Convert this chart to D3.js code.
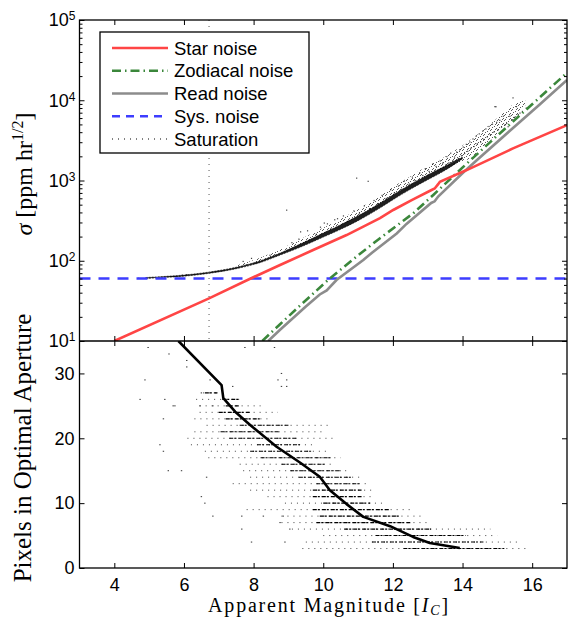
<!DOCTYPE html>
<html>
<head>
<meta charset="utf-8">
<script src="https://cdn.jsdelivr.net/npm/d3@7/dist/d3.min.js"></script>
<style>
  body { margin: 0; background: #fff; }
  svg { display: block; }
</style>
</head>
<body>
<svg id="chart" width="569" height="618"></svg>
<script>
// ---- values ----
// noise curves, ppm hr^1/2 against I_C magnitude
const starMag = [4.0, 6.72, 7.9, 8.76, 9.71, 10.67, 11.63, 12.01, 12.54, 13.11, 13.2, 13.3, 13.35, 14.12, 15.45, 17.0]
const starNoise = [10, 34, 59.7, 88.5, 136, 209, 339, 429, 571, 762, 794, 900, 966, 1349, 2512, 4898]
const zodiMag = [8.25, 8.76, 9.33, 10.19, 11.0, 11.63, 12.58, 13.16, 14.12, 15.0, 16.0, 17.0]
const zodiNoise = [10, 16.2, 27.5, 60.3, 117, 191, 389, 661, 1622, 3631, 8913, 22030]
const readMag = [8.42, 8.76, 9.5, 9.9, 10.1, 10.38, 11.15, 11.4, 12.11, 12.39, 13.1, 13.2, 13.3, 14.02, 14.4, 15.36, 16.2, 17.0]
const readNoise = [10, 13.8, 26.9, 38, 42.7, 57.5, 102, 126, 219, 288, 525, 550, 631, 1259, 1778, 4169, 8710, 17870]
const sysNoise = 60
const saturationMag = 6.72

// dense core of the measured stars (lower / upper edge)
const coreMag = [4.9, 5.5, 6.0, 6.7, 7.5, 8.2, 8.8, 9.4, 10.0, 10.5, 11.0, 11.6, 12.0, 12.5, 13.0, 13.4, 13.8, 14.0]
const coreLow = [60.1, 62.2, 64.3, 69.5, 79.6, 95.3, 119.4, 151.4, 197.2, 246.6, 316.2, 446.7, 575.4, 776.2, 1023, 1265, 1622, 1862]
const coreHigh = [61.8, 64.0, 66.4, 72.1, 83.0, 100.2, 126.8, 166, 221.3, 280.5, 363.1, 512.9, 660.7, 891.3, 1175, 1439, 1778, 1950]
// looser cloud of stars above the core
const haloMag = [7.5, 8.2, 8.8, 9.4, 10.0, 10.5, 11.0, 11.6, 12.0, 12.5, 13.0, 13.4, 13.8, 14.2, 14.6, 15.0, 15.4, 15.8]
const haloLow = [83.0, 100.2, 126.8, 164.1, 217.3, 274.8, 354.8, 501, 646, 871, 1148, 1349, 1585, 1862, 2630, 3802, 5495, 8318]
const haloHigh = [87.1, 109.6, 141.3, 190.5, 257, 331, 437, 631, 832, 1122, 1514, 1862, 2399, 3162, 4266, 6026, 8511, 10000]

// single stars [mag, ppm]
const starScatter = [
    [4.7, 60.5], [5.95, 66], [6.08, 67], [7.70, 98], [7.94, 107], [8.47, 117], [8.95, 427], [9.35, 229],
    [10.03, 295], [10.33, 324], [10.96, 1070], [11.29, 977],
    [9.1, 168], [9.3, 186], [9.55, 236], [9.8, 214], [9.92, 262], [10.12, 288], [10.22, 251], [10.41, 334],
    [10.58, 362], [10.7, 309], [10.88, 418], [11.04, 392], [11.18, 482], [11.33, 447], [11.46, 563], [11.58, 516],
    [11.69, 652], [11.81, 598], [11.94, 764], [12.04, 697], [12.16, 852], [12.26, 781], [12.33, 985], [12.47, 902],
    [12.56, 1103], [12.64, 997], [12.77, 1248], [12.86, 1152], [12.93, 1404], [13.04, 1296], [13.14, 1598],
    [13.24, 1497], [13.36, 1752], [13.43, 1648], [13.52, 1560], [13.55, 1980], [13.61, 1660], [13.66, 2190],
    [13.72, 1760], [13.77, 1960], [13.83, 2260], [13.88, 1880], [13.92, 2410], [13.97, 2030], [14.02, 2610],
    [14.06, 2170], [14.11, 2820], [14.15, 2310], [14.21, 3020], [14.24, 2520], [14.3, 3290], [14.33, 2650],
    [14.39, 3560], [14.42, 2870], [14.48, 3810], [14.52, 3010], [14.58, 4120], [14.61, 3260], [14.67, 4390],
    [14.71, 3490], [14.76, 4710], [14.8, 3720], [14.86, 5030], [14.9, 4010], [14.93, 8320], [14.96, 8300],
    [14.98, 5310], [15.02, 4280], [15.07, 5620], [15.12, 4620], [15.17, 6310], [15.22, 4930], [15.27, 5130],
    [15.31, 4680], [15.36, 6310], [15.41, 5720], [15.45, 10700], [15.49, 6120], [15.55, 8320], [15.6, 6630],
    [15.65, 6920], [15.72, 7250], [15.83, 7980], [15.91, 8150]
]

// pixels in aperture: rows [pixels, sparse from, dense from, dense to, sparse to]
const pixRows = [
    [3, 9.4, 12.3, 15.2, 15.9], [4, 9.5, 11.4, 14.6, 15.6], [5, 10.0, 11.5, 14.1, 15.0],
    [6, 9.1, 10.6, 13.1, 14.8], [7, 8.8, 9.8, 12.5, 13.1], [8, 8.8, 9.9, 12.2, 12.8],
    [9, 7.8, 9.7, 11.9, 12.5], [10, 8.9, 10.0, 11.35, 11.7], [11, 8.4, 9.7, 11.1, 11.4],
    [12, 7.9, 9.7, 11.1, 11.5], [13, 7.4, 9.8, 11.05, 11.25], [14, 7.9, 9.3, 10.8, 11.1],
    [15, 7.7, 9.05, 10.5, 10.8], [16, 7.6, 8.8, 10.05, 10.25], [17, 6.7, 8.2, 10.25, 10.5],
    [18, 6.6, 7.9, 9.7, 10.2], [19, 6.2, 8.1, 9.35, 9.75], [20, 6.1, 7.3, 9.25, 10.3],
    [21, 6.3, 7.05, 8.75, 10.05], [22, 6.65, 7.6, 9.0, 10.2], [23, 6.3, 7.2, 8.2, 8.4],
    [24, 6.45, 7.0, 7.9, 8.7], [25, 6.45, 7.2, 7.6, 8.2], [26, 6.35, 7.1, 7.6, 7.6],
    [27, 6.55, 6.6, 6.95, 6.95]
]
const pixScatter = [
    [4.74, 26], [5.45, 26], [5.74, 25], [5.69, 25], [5.41, 23], [5.31, 19], [5.41, 18], [5.55, 15], [5.93, 15],
    [6.65, 14], [6.5, 11], [6.6, 10], [6.83, 8], [7.66, 8], [8.28, 8], [8.85, 8], [8.76, 7], [7.66, 6], [9.04, 6],
    [7.94, 4], [8.9, 4], [4.88, 29], [4.97, 34], [5.57, 33], [6.08, 32], [6.08, 31], [6.75, 29], [7.4, 28],
    [8.8, 28], [8.95, 28], [8.7, 29], [8.95, 29], [8.8, 30], [7.75, 34], [8.6, 34], [6.46, 25], [6.83, 25],
    [6.5, 27], [6.95, 27]
]
// median aperture size
const medianMag = [5.84, 7.08, 7.13, 7.47, 7.9, 8.66, 9.33, 9.9, 10.19, 10.67, 11.15, 11.92, 12.58, 13.06, 13.92]
const medianPix = [35, 28.2, 26.2, 24.1, 22.05, 18.7, 16.26, 14.06, 12.0, 9.85, 7.88, 6.45, 4.79, 3.86, 3.09]

const magTicks = [4, 6, 8, 10, 12, 14, 16]
const sigmaTicks = [1e1, 1e2, 1e3, 1e4, 1e5]
const pixTicks = [0, 10, 20, 30]
const legendNames = ['Star noise', 'Zodiacal noise', 'Read noise', 'Sys. noise', 'Saturation']

// ---- drawing ----
const sans = "'Liberation Sans', Arial, sans-serif"
const serif = "'Liberation Serif', 'Times New Roman', serif"
const box = { left: 79.5, right: 567, top: 20, mid: 341, bottom: 568 }

const svg = d3.select('#chart')

const x = d3.scaleLinear().domain([3, 17]).range([box.left, box.right])
const yTop = d3.scaleLog().domain([10, 1e5]).range([box.mid, box.top])
const yBot = d3.scaleLinear().domain([0, 35]).range([box.bottom, box.mid])

const styles = {
    star: { color: '#ff4545', width: 2.6, dash: null },
    zodi: { color: '#3b873b', width: 2.6, dash: '9,4,1.5,4' },
    read: { color: '#8c8c8c', width: 2.6, dash: null },
    sys: { color: '#3d3dff', width: 2.6, dash: '11,8' },
    sat: { color: '#555', width: 1, dash: '1,5' }
}

const defs = svg.append('defs')
defs.append('clipPath').attr('id', 'clipTop').append('rect')
    .attr('x', box.left).attr('y', box.top).attr('width', box.right - box.left).attr('height', box.mid - box.top)
defs.append('clipPath').attr('id', 'clipBot').append('rect')
    .attr('x', box.left).attr('y', box.mid).attr('width', box.right - box.left).attr('height', box.bottom - box.mid)
// stipple used for the loose star cloud
const stipple = defs.append('pattern')
    .attr('id', 'stipple')
    .attr('patternUnits', 'userSpaceOnUse')
    .attr('width', 7).attr('height', 5)
;[[0, 0], [4, 1], [2, 2], [6, 3], [1, 4], [5, 4]].forEach(p => {
    stipple.append('rect').attr('x', p[0]).attr('y', p[1]).attr('width', 1).attr('height', 1).attr('fill', '#000')
})

const topPanel = svg.append('g').attr('clip-path', 'url(#clipTop)')
const botPanel = svg.append('g').attr('clip-path', 'url(#clipBot)')

const bandArea = d3.area().curve(d3.curveMonotoneX)
    .x(d => x(d[0])).y0(d => yTop(d[1])).y1(d => yTop(d[2]))

topPanel.append('path')
    .datum(haloMag.map((m, i) => [m, haloLow[i], haloHigh[i]]))
    .attr('d', bandArea)
    .attr('fill', 'url(#stipple)')
    .attr('opacity', 0.65)

topPanel.append('path')
    .datum(coreMag.map((m, i) => [m, coreLow[i], coreHigh[i]]))
    .attr('d', bandArea)
    .attr('fill', '#000')
    .attr('fill-opacity', 0.88)
    .attr('stroke', '#000')
    .attr('stroke-width', 0.6)
    .attr('stroke-dasharray', '2,1')

topPanel.selectAll('rect.star')
    .data(starScatter)
    .enter()
    .append('rect')
    .attr('class', 'star')
    .attr('x', d => x(d[0]) - 0.6)
    .attr('y', d => yTop(d[1]) - 0.6)
    .attr('width', 1.2)
    .attr('height', 1.2)
    .attr('fill', '#000')
    .attr('fill-opacity', 0.75)

// saturation limit
topPanel.append('line')
    .attr('x1', x(saturationMag)).attr('x2', x(saturationMag))
    .attr('y1', yTop(1e5)).attr('y2', yTop(10))
    .attr('stroke', styles.sat.color)
    .attr('stroke-width', styles.sat.width)
    .attr('stroke-dasharray', styles.sat.dash)

const noiseLine = d3.line().x(d => x(d[0])).y(d => yTop(d[1]))
const curves = [
    { key: 'sys', pts: [[3, sysNoise], [17, sysNoise]] },
    { key: 'read', pts: readMag.map((m, i) => [m, readNoise[i]]) },
    { key: 'zodi', pts: zodiMag.map((m, i) => [m, zodiNoise[i]]) },
    { key: 'star', pts: starMag.map((m, i) => [m, starNoise[i]]) }
]
curves.forEach(c => {
    topPanel.append('path')
        .datum(c.pts)
        .attr('d', noiseLine)
        .attr('fill', 'none')
        .attr('stroke', styles[c.key].color)
        .attr('stroke-width', styles[c.key].width)
        .attr('stroke-dasharray', styles[c.key].dash)
})

// pixel rows: sparse part dotted, dense part dashed
botPanel.selectAll('line.sparse')
    .data(pixRows)
    .enter()
    .append('line')
    .attr('class', 'sparse')
    .attr('x1', d => x(d[1])).attr('x2', d => x(d[4]))
    .attr('y1', d => yBot(d[0])).attr('y2', d => yBot(d[0]))
    .attr('stroke', '#444')
    .attr('stroke-width', 1)
    .attr('stroke-dasharray', '1,5')
botPanel.selectAll('line.dense')
    .data(pixRows)
    .enter()
    .append('line')
    .attr('class', 'dense')
    .attr('x1', d => x(d[2])).attr('x2', d => x(d[3]))
    .attr('y1', d => yBot(d[0])).attr('y2', d => yBot(d[0]))
    .attr('stroke', '#000')
    .attr('stroke-width', 1.1)
    .attr('stroke-dasharray', '4,1,2,2')
botPanel.selectAll('rect.pix')
    .data(pixScatter)
    .enter()
    .append('rect')
    .attr('class', 'pix')
    .attr('x', d => x(d[0]) - 0.7)
    .attr('y', d => yBot(d[1]) - 0.5)
    .attr('width', 1.4)
    .attr('height', 1)
    .attr('fill', '#333')

botPanel.append('path')
    .datum(medianMag.map((m, i) => [m, medianPix[i]]))
    .attr('d', d3.line().x(d => x(d[0])).y(d => yBot(d[1])))
    .attr('fill', 'none')
    .attr('stroke', '#000')
    .attr('stroke-width', 2.6)
    .attr('stroke-linejoin', 'round')

// ---- axes: inward ticks on every side ----
function addAxis (axis, tx, ty) {
    const g = svg.append('g')
        .attr('transform', `translate(${tx},${ty})`)
        .call(axis)
    g.select('.domain').remove()
    g.selectAll('.tick line').attr('stroke', '#000').attr('stroke-width', 1)
    g.selectAll('.tick text').attr('font-family', sans).attr('font-size', 18).attr('fill', '#000')
    return g
}
const minorTicks = d3.range(1, 5).flatMap(e => d3.range(2, 10).map(k => k * Math.pow(10, e)))

addAxis(d3.axisTop(x).tickValues(magTicks).tickSize(-5).tickFormat(''), 0, box.top)
addAxis(d3.axisBottom(x).tickValues(magTicks).tickSize(-5).tickFormat(''), 0, box.mid)
addAxis(d3.axisTop(x).tickValues(magTicks).tickSize(-5).tickFormat(''), 0, box.mid)
addAxis(d3.axisBottom(x).tickValues(magTicks).tickSize(-5).tickPadding(10), 0, box.bottom)

const logLeft = addAxis(d3.axisLeft(yTop).tickValues(sigmaTicks).tickSize(-5).tickPadding(4).tickFormat(''), box.left, 0)
logLeft.selectAll('.tick text').each(function (d) {
    const t = d3.select(this)
    t.append('tspan').text('10')
    t.append('tspan').attr('dy', '-0.5em').attr('font-size', 12).text(Math.round(Math.log10(d)))
})
addAxis(d3.axisRight(yTop).tickValues(sigmaTicks).tickSize(-5).tickFormat(''), box.right, 0)
addAxis(d3.axisLeft(yTop).tickValues(minorTicks).tickSize(-3).tickFormat(''), box.left, 0)
addAxis(d3.axisRight(yTop).tickValues(minorTicks).tickSize(-3).tickFormat(''), box.right, 0)

addAxis(d3.axisLeft(yBot).tickValues(pixTicks).tickSize(-5).tickPadding(5), box.left, 0)
addAxis(d3.axisRight(yBot).tickValues(pixTicks).tickSize(-5).tickFormat(''), box.right, 0)

// panel frames
svg.append('rect')
    .attr('x', box.left).attr('y', box.top)
    .attr('width', box.right - box.left).attr('height', box.bottom - box.top)
    .attr('fill', 'none').attr('stroke', '#000').attr('stroke-width', 1.3)
svg.append('line')
    .attr('x1', box.left).attr('x2', box.right).attr('y1', box.mid).attr('y2', box.mid)
    .attr('stroke', '#000').attr('stroke-width', 1.3)

// ---- legend ----
const legendKeys = ['star', 'zodi', 'read', 'sys', 'sat']
const legend = svg.append('g').attr('class', 'legend')
legend.append('rect')
    .attr('x', 100).attr('y', 32).attr('width', 209).attr('height', 121)
    .attr('fill', '#fff').attr('stroke', '#000').attr('stroke-width', 1.3)
const lg = legend.selectAll('g.item')
    .data(legendNames)
    .enter()
    .append('g')
    .attr('class', 'item')
    .attr('transform', (d, i) => `translate(0,${48 + i * 22.75})`)
lg.append('line')
    .attr('x1', 112).attr('x2', 168)
    .attr('stroke', (d, i) => legendKeys[i] === 'sat' ? '#000' : styles[legendKeys[i]].color)
    .attr('stroke-width', (d, i) => styles[legendKeys[i]].width)
    .attr('stroke-dasharray', (d, i) => legendKeys[i] === 'sys' ? '8,6' : styles[legendKeys[i]].dash)
lg.append('text')
    .attr('x', 174)
    .attr('y', 6.5)
    .attr('font-family', sans)
    .attr('font-size', 18.5)
    .text(d => d)

// ---- axis titles ----
const xTitle = svg.append('text')
    .attr('x', 329).attr('y', 612)
    .attr('text-anchor', 'middle')
    .attr('font-family', serif).attr('font-size', 20)
    .attr('letter-spacing', 1.8)
xTitle.append('tspan').text('Apparent Magnitude [')
xTitle.append('tspan').attr('font-style', 'italic').text('I')
xTitle.append('tspan').attr('font-style', 'italic').attr('font-size', 14).attr('dy', 3).text('C')
xTitle.append('tspan').attr('dy', -3).text(']')

const yTitleTop = svg.append('text')
    .attr('transform', 'translate(32,174) rotate(-90)')
    .attr('text-anchor', 'middle')
    .attr('font-family', serif).attr('font-size', 24)
yTitleTop.append('tspan').attr('font-style', 'italic').text('σ')
yTitleTop.append('tspan').text(' [ppm hr')
yTitleTop.append('tspan').attr('font-size', 16).attr('dy', -9).text('1/2')
yTitleTop.append('tspan').attr('dy', 9).text(']')

svg.append('text')
    .attr('transform', 'translate(31,448) rotate(-90)')
    .attr('text-anchor', 'middle')
    .attr('font-family', serif).attr('font-size', 25)
    .text('Pixels in Optimal Aperture')
</script>
</body>
</html>
